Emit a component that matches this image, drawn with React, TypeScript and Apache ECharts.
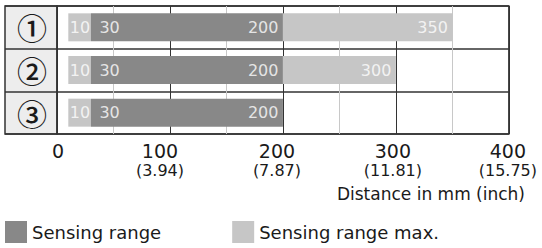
import React, { useEffect, useRef } from "react";
import * as echarts from "echarts";

// ---- data ----
const rows = ["①", "②", "③"];
const minDistance = [10, 10, 10];
const rangeStart = [30, 30, 30];
const rangeEnd = [200, 200, 200];
const maxEnd: (number | null)[] = [350, 300, null];
const mmTicks = ["0", "100", "200", "300", "400"];
const inchTicks = ["", "(3.94)", "(7.87)", "(11.81)", "(15.75)"];
const seriesNames = ["Sensing range", "Sensing range max."];
const axisTitle = "Distance in mm (inch)";

// ---- style ----
const DARK = "#888888";
const LIGHT = "#c6c6c6";
const TEXT = "#1a1a1a";
const LINE = "#333333";
const FONT = "DejaVu Sans";
const labelShift = [1, -10, -6, -3, -1];

export default function App() {
  const ref = useRef<HTMLDivElement>(null);
  useEffect(() => {
    if (!ref.current) return;
    const chart = echarts.init(ref.current, null, { renderer: "svg" });

    const rich: Record<string, any> = {};
    labelShift.forEach((d, i) => {
      const pad = d < 0 ? [0, -2 * d, 0, 0] : [0, 0, 0, 2 * d];
      rich["a" + i] = { fontSize: 19, lineHeight: 20, color: TEXT, fontFamily: FONT, padding: pad };
      rich["b" + i] = { fontSize: 16, lineHeight: 18, color: TEXT, fontFamily: FONT, padding: pad };
    });

    const barLabel = (pos: string, dist: number) => ({
      show: true,
      position: pos,
      distance: dist,
      color: "#ffffff",
      fontSize: 16,
      fontFamily: FONT,
      formatter: (p: any) => String(p.value[0]),
    });
    const labelSeries = (data: any[], pos: string, dist: number) => ({
      type: "scatter",
      xAxisIndex: 1,
      yAxisIndex: 1,
      symbolSize: 1,
      itemStyle: { color: "rgba(0,0,0,0)" },
      silent: true,
      z: 5,
      label: barLabel(pos, dist),
      data,
    });

    chart.setOption({
      animation: false,
      grid: [
        { left: 5, top: 6, width: 52, height: 128, show: true, backgroundColor: "#ededed", borderColor: LINE, borderWidth: 1.5 },
        { left: 57, top: 6, right: 33, height: 128, show: true, borderColor: LINE, borderWidth: 1.5 },
      ],
      xAxis: [
        { gridIndex: 0, type: "value", show: false, min: 0, max: 1 },
        {
          gridIndex: 1,
          type: "value",
          min: 0,
          max: 400,
          interval: 100,
          axisLine: { show: false },
          axisTick: { show: false },
          splitLine: { show: true, lineStyle: { color: LINE, width: 1 } },
          minorTick: { show: false, splitNumber: 2 },
          minorSplitLine: { show: true, lineStyle: { color: "#c8c8c8", width: 1 } },
          axisLabel: {
            margin: 7,
            formatter: (_v: number, i: number) =>
              inchTicks[i] ? `{a${i}|${mmTicks[i]}}\n{b${i}|${inchTicks[i]}}` : `{a${i}|${mmTicks[i]}}`,
            rich,
          },
        },
      ],
      yAxis: [
        {
          gridIndex: 0,
          type: "category",
          data: rows,
          inverse: true,
          axisLine: { show: false },
          axisTick: { show: false },
          splitLine: { show: true, interval: 0, lineStyle: { color: LINE, width: 1.5 } },
          axisLabel: {
            inside: true,
            margin: 27,
            align: "center",
            fontSize: 30,
            fontWeight: 500,
            color: TEXT,
            fontFamily: "Noto Sans CJK JP",
          },
        },
        {
          gridIndex: 1,
          type: "category",
          data: rows,
          inverse: true,
          axisLine: { show: false },
          axisTick: { show: false },
          axisLabel: { show: false },
          splitLine: { show: true, interval: 0, lineStyle: { color: LINE, width: 1.5 } },
        },
      ],
      legend: {
        left: 5,
        top: 221,
        padding: 0,
        itemWidth: 22,
        itemHeight: 22,
        itemGap: 71,
        icon: "rect",
        data: seriesNames,
        textStyle: { fontSize: 18, color: TEXT, fontFamily: FONT },
      },
      graphic: [
        {
          type: "text",
          right: 17,
          top: 185,
          style: { text: axisTitle, fontSize: 17, fontFamily: FONT, fill: TEXT },
        },
      ],
      series: [
        {
          type: "bar",
          name: "offset",
          stack: "r",
          xAxisIndex: 1,
          yAxisIndex: 1,
          barWidth: 28,
          silent: true,
          itemStyle: { color: "rgba(0,0,0,0)" },
          data: minDistance,
        },
        {
          type: "bar",
          name: seriesNames[1],
          stack: "r",
          xAxisIndex: 1,
          yAxisIndex: 1,
          barWidth: 28,
          itemStyle: { color: LIGHT },
          data: rangeStart.map((v, i) => v - minDistance[i]),
        },
        {
          type: "bar",
          name: seriesNames[0],
          stack: "r",
          xAxisIndex: 1,
          yAxisIndex: 1,
          barWidth: 28,
          itemStyle: { color: DARK },
          data: rangeEnd.map((v, i) => v - rangeStart[i]),
        },
        {
          type: "bar",
          name: seriesNames[1],
          stack: "r",
          xAxisIndex: 1,
          yAxisIndex: 1,
          barWidth: 28,
          itemStyle: { color: LIGHT },
          data: maxEnd.map((v, i) => (v == null ? "-" : v - rangeEnd[i])),
        },
        labelSeries(rows.map((r, i) => [minDistance[i], r]), "right", 1),
        labelSeries(rows.map((r, i) => [rangeStart[i], r]), "right", 8),
        labelSeries(rows.map((r, i) => [rangeEnd[i], r]), "left", 4),
        labelSeries(
          rows.map((r, i) => [maxEnd[i], r]).filter((d) => d[0] != null),
          "left",
          4
        ),
      ],
    });
    return () => chart.dispose();
  }, []);
  return (
    <div
      ref={ref}
      style={{ position: "fixed", left: 0, top: 0, width: 542, height: 248, background: "#fff" }}
    />
  );
}
